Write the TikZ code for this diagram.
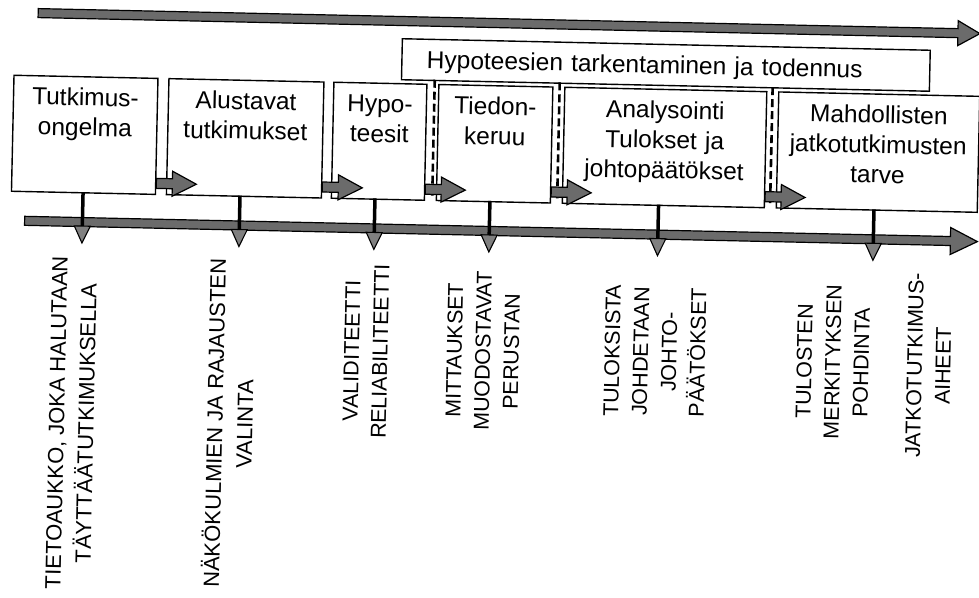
\documentclass[tikz,border=0pt]{standalone}
\usepackage{fontspec}
\setmainfont{Liberation Sans}
\usetikzlibrary{calc}
\tikzset{
  stage/.style={draw, line width=1.4pt, fill=white, inner sep=0pt, anchor=north west,
    align=center, font=\fontsize{24.5}{30}\selectfont, text height=29pt, text depth=87pt},
  band/.style={draw=black, line width=1.2pt, fill=black!58, line join=miter},
  phase/.style={draw=black, line width=2.6pt, dash pattern=on 8pt off 4pt},
  dropline/.style={line width=3.5pt},
  drophead/.style={draw=black, line width=1.1pt, fill=black!50},
  note/.style={rotate=90, align=center, inner sep=0pt, font=\fontsize{21.5}{28.5}\selectfont},
}
% block arrow: tail point, total length, shaft half width, head half width, head length
\newcommand\blockarrow[5]{%
  \filldraw[band] (#1) ++(0,#3) -- ++({#2-#5},0) -- ++(0,{#4-#3}) -- ++(#5,-#4)
    -- ++(-#5,-#4) -- ++(0,{#4-#3}) -- ++({#5-#2},0) -- cycle;}
% drop arrow from a box bottom to a head below the time line
\newcommand\dropto[2]{%
  \draw[dropline] (#1) -- (#2);
  \filldraw[drophead] (#2) ++(-8,0) -- ++(16,0) -- ++(-8,-17) -- cycle;}
\begin{document}
\begin{tikzpicture}[x=1pt,y=1pt]
\useasboundingbox (0,0) rectangle (979,-597);
\fill[white] (0,0) rectangle (979,-597);
\begin{scope}[rotate around={-1.25:(490,-300)}, transform shape]
  % upper time line
  \coordinate (topL) at (32,-23);
  \blockarrow{topL}{942}{4.5}{12.5}{22}

  % refinement phase box
  \node[draw, line width=1.4pt, inner sep=0pt, anchor=north west, text width=528pt,
        align=left, text height=29pt, text depth=12pt,
        font=\fontsize{24.5}{30}\selectfont] (hyp) at (396,-40)
        {\hspace*{25pt}Hypoteesien tarkentaminen ja todennus};

  % stage boxes
  \node[stage, text width=144pt] (b1) at (8.5,-85) {Tutkimus-\\ongelma};
  \node[stage, text width=155pt] (b2) at (163.5,-85) {Alustavat\\tutkimukset};
  \node[stage, text width=93pt]  (b3) at (328.5,-85) {Hypo-\\teesit};
  \node[stage, text width=114pt] (b4) at (433.5,-85) {Tiedon-\\keruu};
  \node[stage, text width=202pt] (b5) at (559.5,-85) {Analysointi\\Tulokset ja\\johtopäätökset};
  \node[stage, text width=201pt] (b6) at (773.5,-85) {Mahdollisten\\jatkotutkimusten\\tarve};

  % dashed phase separators
  \coordinate (p1t) at (430,-81);  \coordinate (p1b) at (430,-198);
  \coordinate (p2t) at (555,-81);  \coordinate (p2b) at (555,-198);
  \coordinate (p3t) at (768,-81);  \coordinate (p3b) at (768,-198);
  \draw[phase] (p1t) -- (p1b);
  \draw[phase] (p2t) -- (p2b);
  \draw[phase] (p3t) -- (p3b);

  % arrows between stages
  \path (b1.east) ++(0,-47) coordinate (a1);
  \path (b2.east) ++(0,-47) coordinate (a2);
  \path (b3.east) ++(0,-47) coordinate (a3);
  \path (b4.east) ++(0,-47) coordinate (a4);
  \path (b5.east) ++(0,-47) coordinate (a5);
  \blockarrow{a1}{40}{5}{12.5}{24}
  \blockarrow{a2}{40}{5}{12.5}{24}
  \blockarrow{a3}{40}{5}{12.5}{24}
  \blockarrow{a4}{40}{5}{12.5}{24}
  \blockarrow{a5}{40}{5}{12.5}{24}

  % lower time line
  \coordinate (lowL) at (23,-231);
  \blockarrow{lowL}{953}{4.5}{13.5}{27}

  % drop arrows to the outcomes
  \coordinate (s1) at (80.8,-201);  \coordinate (h1) at (80.8,-235);
  \coordinate (s2) at (237.8,-201); \coordinate (h2) at (237.8,-235);
  \coordinate (s3) at (372.8,-201); \coordinate (h3) at (372.8,-235);
  \coordinate (s4) at (487.8,-201); \coordinate (h4) at (487.8,-235);
  \coordinate (s5) at (656.5,-201); \coordinate (h5) at (656.5,-235);
  \coordinate (s6) at (872,-201);   \coordinate (h6) at (872,-235);
  \dropto{s1}{h1}
  \dropto{s2}{h2}
  \dropto{s3}{h3}
  \dropto{s4}{h4}
  \dropto{s5}{h5}
  \dropto{s6}{h6}

  % outcome labels
  \node[note, font=\fontsize{22}{29.5}\selectfont] (n1) at (74,-432)
    {TIETOAUKKO, JOKA HALUTAAN\\TÄYTTÄÄTUTKIMUKSELLA};
  \node[note, font=\fontsize{22}{30}\selectfont] (n2) at (231,-429)
    {NÄKÖKULMIEN JA RAJAUSTEN\\VALINTA};
  \node[note] (n3) at (367,-354)
    {VALIDITEETTI\\RELIABILITEETTI};
  \node[note] (n4) at (484,-351)
    {MITTAUKSET\\MUODOSTAVAT\\PERUSTAN};
  \node[note] (n5) at (656,-348)
    {TULOKSISTA\\JOHDETAAN\\JOHTO-\\PÄÄTÖKSET};
  \node[note] (n6) at (834,-354.5)
    {TULOSTEN\\MERKITYKSEN\\POHDINTA};
  \node[note] (n7) at (930,-356)
    {JATKOTUTKIMUS-\\AIHEET};
\end{scope}
\end{tikzpicture}
\end{document}
